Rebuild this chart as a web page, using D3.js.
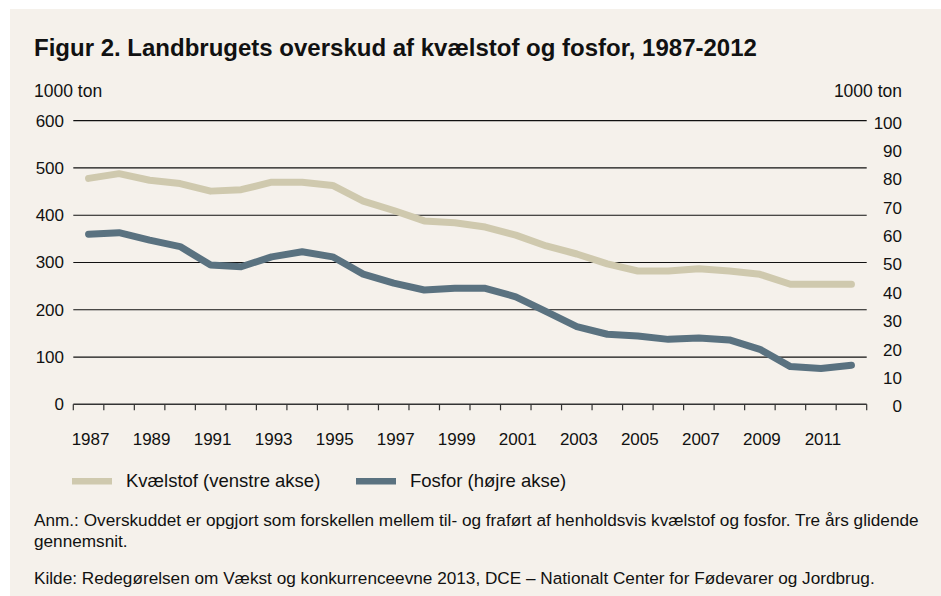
<!DOCTYPE html>
<html>
<head>
<meta charset="utf-8">
<script src="https://cdn.jsdelivr.net/npm/d3@7"></script>
<style>
  html, body { margin: 0; padding: 0; background: #fff; }
  svg { display: block; font-family: "Liberation Sans", Arial, sans-serif; }
</style>
</head>
<body>
<svg id="chart" width="941" height="596"></svg>
<script>
// data
var years = d3.range(1987, 2013);
var kvaelstof = [478, 488, 474, 467, 451, 454, 470, 470, 463, 430, 410, 388, 384, 375,
                 358, 335, 318, 297, 282, 282, 287, 282, 275, 254, 254, 254];
var fosfor = [60.0, 60.5, 57.9, 55.6, 49.1, 48.5, 52.0, 53.8, 52.0, 45.9, 42.7, 40.3, 40.9, 40.9,
              37.9, 32.7, 27.4, 24.7, 24.1, 22.9, 23.4, 22.7, 19.4, 13.3, 12.6, 13.8];
var leftTicks = [0, 100, 200, 300, 400, 500, 600];
var rightTicks = [0, 10, 20, 30, 40, 50, 60, 70, 80, 90, 100];
var yearLabels = years.filter(function(y) { return y % 2 === 1; });

var colKv = "#cfc9ae", colFo = "#5a7280";

var svg = d3.select("#chart");
svg.append("rect").attr("x", 10).attr("y", 9).attr("width", 931).attr("height", 587).attr("fill", "#f5f1eb");

var plot = {left: 73.3, right: 866.7, top: 120.7, bottom: 404.3};

var x = d3.scaleBand().domain(years).range([plot.left, plot.right]);
var yL = d3.scaleLinear().domain([0, 600]).range([plot.bottom, plot.top]);
var yR = d3.scaleLinear().domain([0, 100]).range([plot.bottom, plot.top]);

svg.append("text").attr("x", 34).attr("y", 56)
  .attr("font-size", 24).attr("font-weight", "bold").attr("fill", "#111")
  .text("Figur 2. Landbrugets overskud af kvælstof og fosfor, 1987-2012");

svg.append("text").attr("x", 34).attr("y", 97).attr("font-size", 17.5).attr("fill", "#111").text("1000 ton");
svg.append("text").attr("x", 902).attr("y", 97).attr("font-size", 17.5).attr("fill", "#111")
  .attr("text-anchor", "end").text("1000 ton");

// gridlines
svg.append("g").selectAll("line").data(leftTicks.filter(function(d) { return d > 0; })).join("line")
  .attr("x1", plot.left).attr("x2", plot.right)
  .attr("y1", function(d) { return yL(d); }).attr("y2", function(d) { return yL(d); })
  .attr("stroke", "#111").attr("stroke-width", 1.2);

// left labels
svg.append("g").selectAll("text").data(leftTicks).join("text")
  .attr("x", 64).attr("y", function(d) { return yL(d); }).attr("dy", "0.35em")
  .attr("text-anchor", "end").attr("font-size", 17).attr("fill", "#111")
  .text(function(d) { return d; });

// right labels
svg.append("g").selectAll("text").data(rightTicks).join("text")
  .attr("x", 902).attr("y", function(d) { return yR(d) + 2; }).attr("dy", "0.35em")
  .attr("text-anchor", "end").attr("font-size", 17).attr("fill", "#111")
  .text(function(d) { return d; });

// x axis with ticks at band boundaries
var xAxis = svg.append("g");
xAxis.append("line").attr("x1", plot.left).attr("x2", plot.right)
  .attr("y1", plot.bottom).attr("y2", plot.bottom).attr("stroke", "#333").attr("stroke-width", 1.5);
var bounds = years.map(function(y) { return x(y); }).concat([plot.right]);
xAxis.selectAll("line.tick").data(bounds).join("line").attr("class", "tick")
  .attr("x1", function(d) { return d; }).attr("x2", function(d) { return d; })
  .attr("y1", plot.bottom).attr("y2", plot.bottom + 6).attr("stroke", "#333").attr("stroke-width", 1.2);
xAxis.selectAll("text").data(yearLabels).join("text")
  .attr("x", function(d) { return x(d) + x.bandwidth() / 2 + 2; }).attr("y", 445)
  .attr("text-anchor", "middle").attr("font-size", 17).attr("fill", "#111")
  .text(function(d) { return d; });

// lines
var lineL = d3.line().x(function(d, i) { return x(years[i]) + x.bandwidth() / 2; }).y(function(d) { return yL(d); });
var lineR = d3.line().x(function(d, i) { return x(years[i]) + x.bandwidth() / 2; }).y(function(d) { return yR(d); });

svg.append("path").datum(kvaelstof).attr("d", lineL)
  .attr("fill", "none").attr("stroke", colKv).attr("stroke-width", 7)
  .attr("stroke-linejoin", "round").attr("stroke-linecap", "round");
svg.append("path").datum(fosfor).attr("d", lineR)
  .attr("fill", "none").attr("stroke", colFo).attr("stroke-width", 7)
  .attr("stroke-linejoin", "round").attr("stroke-linecap", "round");

// legend
var legend = [
  {label: "Kvælstof (venstre akse)", color: colKv, x: 72},
  {label: "Fosfor (højre akse)", color: colFo, x: 356}
];
var lg = svg.append("g").selectAll("g").data(legend).join("g");
lg.append("rect").attr("x", function(d) { return d.x; }).attr("y", 478).attr("width", 40).attr("height", 6.5)
  .attr("fill", function(d) { return d.color; });
lg.append("text").attr("x", function(d) { return d.x + 54; }).attr("y", 487)
  .attr("font-size", 18.5).attr("fill", "#111").text(function(d) { return d.label; });

// notes
var notes = [
  {t: "Anm.: Overskuddet er opgjort som forskellen mellem til- og fraført af henholdsvis kvælstof og fosfor. Tre års glidende", y: 526},
  {t: "gennemsnit.", y: 547},
  {t: "Kilde: Redegørelsen om Vækst og konkurrenceevne 2013, DCE – Nationalt Center for Fødevarer og Jordbrug.", y: 584}
];
svg.append("g").selectAll("text").data(notes).join("text")
  .attr("x", 34).attr("y", function(d) { return d.y; })
  .attr("font-size", 17.2).attr("fill", "#111").text(function(d) { return d.t; });
</script>
</body>
</html>
